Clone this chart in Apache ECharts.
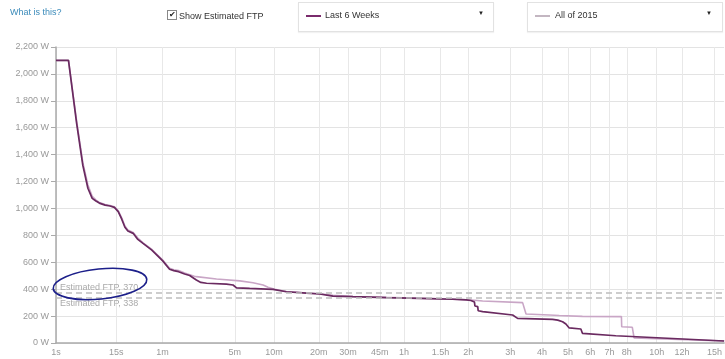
<!DOCTYPE html>
<html><head><meta charset="utf-8">
<script src="https://cdn.jsdelivr.net/npm/echarts@6/dist/echarts.min.js"></script>
<style>
body{margin:0;background:#fff;font-family:"Liberation Sans",Arial,sans-serif;}
#wrap{position:relative;width:725px;height:359px;overflow:hidden;background:#fff}
#chart{position:absolute;left:0;top:0;width:725px;height:359px}
.t{position:absolute;font-size:9px;color:#333;white-space:nowrap;line-height:10px}
#what{left:10px;top:7px;color:#3b8bba}
#chk{position:absolute;left:167px;top:10px;width:8px;height:8px;border:1px solid #888;background:#fff;font-size:8px;line-height:8px;text-align:center;color:#222}
#chkt{left:179px;top:11px}
.box{position:absolute;top:2px;height:30px;border:1px solid #e2e2e2;background:#fff;box-sizing:border-box;box-shadow:0 1px 1px rgba(0,0,0,0.05)}
.sw{position:absolute;top:12px;width:15px;height:2px}
.bt{position:absolute;top:7px;font-size:9px;color:#333;white-space:nowrap}
.ar{position:absolute;top:7px;font-size:6px;color:#222}
</style></head>
<body><div id="wrap">
<div id="chart"></div>
<div class="t" id="what">What is this?</div>
<div id="chk">✔</div>
<div class="t" id="chkt">Show Estimated FTP</div>
<div class="box" style="left:298px;width:196px"><div class="sw" style="left:7px;background:#7a2b6c"></div><div class="bt" style="left:26px">Last 6 Weeks</div><div class="ar" style="left:179px">▼</div></div>
<div class="box" style="left:527px;width:196px"><div class="sw" style="left:7px;background:#c3b6c1"></div><div class="bt" style="left:27px">All of 2015</div><div class="ar" style="left:178px">▼</div></div>
</div>
<script>
// x tick durations (seconds) and their labels
const tickSec = [1, 15, 60, 300, 600, 1200, 1800, 2700, 3600, 5400, 7200, 10800, 14400, 18000, 21600, 25200, 28800, 36000, 43200, 54000];
const tickLabels = ['1s','15s','1m','5m','10m','20m','30m','45m','1h','1.5h','2h','3h','4h','5h','6h','7h','8h','10h','12h','15h'];
const maxSec = 57600;
// Last 6 Weeks
const last6Sec = [1,2,3,4,5,6,7,8,10,12,14,15,16,18,20,22,26,30,35,45,60,72,80,90,104,117,136,150,170,255,290,310,395,480,591,735,1000,1216,1466,1919,2920,4290,6140,7050,7400,7660,7700,7915,7950,8310,11050,11570,11750,15780,16500,17190,17680,18180,20020,20280,26470,26800,57600];
const last6W =   [2100,2100,1633,1320,1150,1075,1055,1040,1025,1018,1008,995,976,920,860,832,815,770,740,690,612,548,538,530,513,502,468,450,444,438,431,410,406,403,399,381,370,364,349,344,337,332,325,320,316,305,275,270,240,233,208,183,178,176,170,158,141,112,104,72,54,40,15];
// All of 2015
const allSec = [1,2,3,4,5,6,7,8,10,12,14,15,16,18,20,22,26,30,35,45,60,72,80,90,104,117,130,136,209,330,419,500,544,608,735,1000,1216,1466,1919,2920,4290,6140,7050,7660,8310,12110,12490,15340,16720,20280,27640,27700,30040,30440,57600];
const allW =   [2100,2100,1650,1340,1175,1090,1062,1045,1030,1022,1012,1000,982,930,870,840,822,780,745,695,618,555,545,538,520,508,496,493,476,462,448,431,414,399,383,372,366,354,346,339,333,326,322,318,312,300,215,208,204,198,196,121,117,38,15];
const ftpValues = [370, 338];

const pw = t => Math.pow(t, 0.2);
const tickPos = tickSec.map(pw);
const labelFor = v => { for (let i = 0; i < tickPos.length; i++) if (Math.abs(tickPos[i] - v) < 1e-6) return tickLabels[i]; return ''; };

const chart = echarts.init(document.getElementById('chart'));
chart.setOption({
  animation: false,
  grid: {left: 56, right: 0, top: 47, bottom: 16},
  xAxis: {
    type: 'value', min: pw(1), max: pw(maxSec),
    axisLine: {show: true, onZero: false, lineStyle: {color: '#aaa', width: 1.5}},
    axisTick: {show: false, customValues: tickPos},
    axisLabel: {customValues: tickPos, formatter: labelFor, color: '#999', fontSize: 9, margin: 5, fontFamily: 'Liberation Sans, Arial, sans-serif'},
    splitLine: {show: true, lineStyle: {color: '#e8e8e8'}}
  },
  yAxis: {
    type: 'value', min: 0, max: 2200, interval: 200,
    axisLine: {show: true, lineStyle: {color: '#aaa', width: 1.5}},
    axisTick: {show: true, length: 5, lineStyle: {color: '#aaa'}},
    axisLabel: {formatter: v => v.toLocaleString('en-US') + ' W', color: '#999', fontSize: 9, margin: 7, fontFamily: 'Liberation Sans, Arial, sans-serif'},
    splitLine: {lineStyle: {color: '#e3e3e3'}}
  },
  series: [
    {name: 'All of 2015', type: 'line', showSymbol: false, data: allSec.map((t, i) => [pw(t), allW[i]]),
     lineStyle: {color: '#c9a6c6', width: 1.6}, itemStyle: {color: '#c9a6c6'}, z: 2},
    {name: 'Last 6 Weeks', type: 'line', showSymbol: false, data: last6Sec.map((t, i) => [pw(t), last6W[i]]),
     lineStyle: {color: '#6a2a60', width: 1.7}, itemStyle: {color: '#6a2a60'}, z: 3,
     markLine: {symbol: 'none', silent: true, animation: false,
       lineStyle: {type: [6, 4], color: '#bdbdbd', width: 1.5},
       label: {color: '#aaa', fontSize: 9, fontFamily: 'Liberation Sans, Arial, sans-serif'},
       data: [
         {yAxis: ftpValues[0], label: {position: 'insideStartTop', distance: [4, 1], formatter: 'Estimated FTP, ' + ftpValues[0]}},
         {yAxis: ftpValues[1], label: {position: 'insideStartBottom', distance: [4, 1], formatter: 'Estimated FTP, ' + ftpValues[1]}}
       ]}}
  ],
  graphic: [{type: 'ellipse', x: 100, y: 284, rotation: 0.1, z: 100,
    shape: {cx: 0, cy: 0, rx: 47, ry: 15}, style: {fill: 'none', stroke: '#1c1f8a', lineWidth: 1.6}}]
});
</script></body></html>
